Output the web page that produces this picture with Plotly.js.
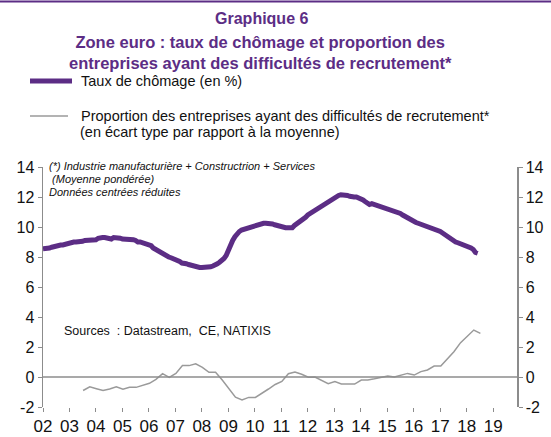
<!DOCTYPE html>
<html><head><meta charset="utf-8">
<script src="https://cdn.plot.ly/plotly-3.0.1.min.js"></script>
<style>html,body{margin:0;padding:0;background:#fff}#chart{width:551px;height:437px}</style>
</head><body><div id="chart"></div>
<script>
// ---- DATA ----
// Monthly euro-area unemployment rate (%), Jan 2002 -> Jun 2018
const unempStart = [2002, 1];
const unemployment = [
  8.55, 8.55, 8.6, 8.6, 8.65, 8.7, 8.7, 8.75, 8.8, 8.8, 8.85, 8.85,
  8.9, 8.95, 9.0, 9.0, 9.0, 9.05, 9.05, 9.1, 9.1, 9.1, 9.1, 9.1,
  9.15, 9.25, 9.3, 9.3, 9.3, 9.25, 9.2, 9.2, 9.3, 9.3, 9.25, 9.25,
  9.2, 9.2, 9.2, 9.2, 9.2, 9.15, 9.1, 9.0, 9.0, 8.95, 8.9, 8.85,
  8.8, 8.75, 8.6, 8.5, 8.4, 8.35, 8.3, 8.2, 8.1, 8.0, 7.95, 7.9,
  7.8, 7.75, 7.7, 7.6, 7.6, 7.55, 7.5, 7.45, 7.4, 7.35, 7.35, 7.3,
  7.3, 7.3, 7.3, 7.3, 7.35, 7.4, 7.45, 7.55, 7.65, 7.75, 7.9, 8.1,
  8.5, 8.8, 9.1, 9.35, 9.55, 9.7, 9.8, 9.85, 9.9, 9.95, 10.0, 10.05,
  10.1, 10.15, 10.2, 10.2, 10.25, 10.25, 10.25, 10.2, 10.2, 10.15, 10.1, 10.05,
  10.0, 10.0, 9.95, 9.95, 9.95, 9.95, 10.1, 10.2, 10.3, 10.4, 10.5, 10.65,
  10.8, 10.9, 11.0, 11.1, 11.2, 11.3, 11.4, 11.5, 11.6, 11.7, 11.8, 11.9,
  12.0, 12.05, 12.1, 12.15, 12.15, 12.1, 12.1, 12.05, 12.0, 12.0, 12.0, 11.95,
  11.9, 11.8, 11.7, 11.6, 11.5, 11.55, 11.5, 11.5, 11.45, 11.4, 11.35, 11.3,
  11.2, 11.15, 11.1, 11.05, 11.0, 11.0, 10.9, 10.8, 10.7, 10.6, 10.5, 10.45,
  10.4, 10.3, 10.25, 10.2, 10.15, 10.1, 10.05, 10.0, 9.95, 9.9, 9.85, 9.8,
  9.7, 9.6, 9.5, 9.35, 9.25, 9.15, 9.05, 9.0, 8.95, 8.9, 8.8, 8.75,
  8.7, 8.65, 8.6, 8.5, 8.3, 8.25
];
// Quarterly share of firms reporting hiring difficulties (std. dev. from mean), Q3 2003 -> Q3 2018
const recruitStart = [2003, 7];
const recruitment = [
  -0.9, -0.65,
  -0.78, -0.9, -0.8, -0.65,
  -0.82, -0.69, -0.69, -0.55,
  -0.42, -0.16, 0.22, -0.02,
  0.24, 0.76, 0.76, 0.88,
  0.64, 0.31, 0.31, -0.2,
  -0.8, -1.35, -1.53, -1.36,
  -1.36, -1.1, -0.8, -0.5,
  -0.3, 0.22, 0.33, 0.18,
  -0.02, 0.0, -0.2, -0.45,
  -0.31, -0.47, -0.47, -0.47,
  -0.2, -0.2, -0.12, -0.05,
  0.07, 0.0, 0.13, 0.24,
  0.13, 0.36, 0.47, 0.73,
  0.73, 1.24, 1.69, 2.29,
  2.69, 3.13, 2.91
];
const yTicks = [-2, 0, 2, 4, 6, 8, 10, 12, 14];
const yTickText = ["-2", "0", "2", "4", "6", "8", "10", "12", "14"];
const seriesNames = ["Taux de chômage (en %)",
  "Proportion des entreprises ayant des difficultés de recrutement*",
  "(en écart type par rapport à la moyenne)"];

// ---- helpers ----
function monthDates(start, n, step, day) {
  const out = [];
  for (let i = 0; i < n; i++) {
    const m0 = (start[1] - 1) + i * step;
    const y = start[0] + Math.floor(m0 / 12);
    const m = (m0 % 12) + 1;
    out.push(y + "-" + String(m).padStart(2, "0") + "-" + day);
  }
  return out;
}
const PURPLE = "#5c2d85";
const GREY = "#9a9a9a";
const AXIS = "#8c8c8c";
const FONT = "Liberation Sans, Arial, sans-serif";

// plot area in pixels
const L = 43, R = 517, T = 167, B = 407, W = 551, H = 437;
const px = x => (x - L) / (R - L);
const py = y => (B - y) / (B - T);

const traces = [
  { x: monthDates(unempStart, unemployment.length, 1, "01"), y: unemployment,
    type: "scatter", mode: "lines", name: seriesNames[0],
    line: { color: PURPLE, width: 5 }, yaxis: "y", showlegend: false },
  { x: monthDates(recruitStart, recruitment.length, 3, "08"), y: recruitment,
    type: "scatter", mode: "lines", name: seriesNames[1],
    line: { color: GREY, width: 1.5 }, yaxis: "y2", showlegend: false }
];

const yCommon = {
  range: [-2, 14], tickvals: yTicks, ticktext: yTickText, ticks: "outside", ticklen: 4, tickwidth: 1,
  tickcolor: AXIS, showline: true, linecolor: AXIS, linewidth: 1.5,
  showgrid: false, zeroline: false, fixedrange: true,
  tickfont: { family: FONT, size: 16, color: "#111" }
};

const legendFont = { family: FONT, size: 14.5, color: "#111" };

const layout = {
  width: W, height: H,
  margin: { l: L, r: W - R, t: T, b: H - B, autoexpand: false },
  paper_bgcolor: "#fff", plot_bgcolor: "#fff",
  font: { family: FONT, color: "#111" },
  showlegend: false,
  title: { text: "<b>Graphique 6</b>", x: 0.475, xanchor: "center", y: 1 - 18 / H, yanchor: "middle",
           font: { family: FONT, size: 16, color: PURPLE } },
  xaxis: {
    type: "date", range: ["2002-01-01", "2019-11-25"],
    tick0: "2002-01-01", dtick: "M12", tickformat: "%y",
    ticks: "outside", ticklen: 4, tickcolor: AXIS, showline: false,
    showgrid: false, zeroline: false,
    tickfont: { family: FONT, size: 17, color: "#111" }
  },
  yaxis: Object.assign({}, yCommon, { side: "left" }),
  yaxis2: Object.assign({}, yCommon, { side: "right", overlaying: "y" }),
  shapes: [
    { type: "line", xref: "paper", yref: "paper", x0: px(0), x1: px(W), y0: py(1.5), y1: py(1.5),
      line: { color: PURPLE, width: 2 } },
    { type: "line", xref: "paper", yref: "y", x0: 0, x1: 1, y0: 0, y1: 0,
      line: { color: AXIS, width: 1.5 } },
    { type: "line", xref: "paper", yref: "paper", x0: px(30), x1: px(72), y0: py(81), y1: py(81),
      line: { color: PURPLE, width: 5 } },
    { type: "line", xref: "paper", yref: "paper", x0: px(30), x1: px(68), y0: py(116), y1: py(116),
      line: { color: GREY, width: 1.5 } }
  ],
  annotations: [
    { text: "<b>Zone euro : taux de chômage et proportion des<br>entreprises ayant des difficultés de recrutement*</b>",
      xref: "paper", yref: "paper", x: px(260), y: py(53), xanchor: "center", yanchor: "middle",
      showarrow: false, align: "center", font: { family: FONT, size: 16.5, color: PURPLE } },
    { text: seriesNames[0], xref: "paper", yref: "paper", x: px(79), y: py(81),
      xanchor: "left", yanchor: "middle", showarrow: false, font: legendFont },
    { text: seriesNames[1], xref: "paper", yref: "paper",
      x: px(79), y: py(116), xanchor: "left", yanchor: "middle", showarrow: false, font: legendFont },
    { text: seriesNames[2], xref: "paper", yref: "paper",
      x: px(78), y: py(132), xanchor: "left", yanchor: "middle", showarrow: false, font: legendFont },
    { text: "<i>(*) Industrie manufacturière + Constructrion + Services</i>", xref: "paper", yref: "paper",
      x: px(47), y: py(166), xanchor: "left", yanchor: "middle", showarrow: false,
      font: { family: FONT, size: 11, color: "#111" } },
    { text: "<i> (Moyenne pondérée)</i>", xref: "paper", yref: "paper",
      x: px(47), y: py(179), xanchor: "left", yanchor: "middle", showarrow: false,
      font: { family: FONT, size: 11, color: "#111" } },
    { text: "<i>Données centrées réduites</i>", xref: "paper", yref: "paper",
      x: px(47), y: py(192), xanchor: "left", yanchor: "middle", showarrow: false,
      font: { family: FONT, size: 11, color: "#111" } },
    { text: "Sources  : Datastream,  CE, NATIXIS", xref: "paper", yref: "paper",
      x: px(62), y: py(331), xanchor: "left", yanchor: "middle", showarrow: false,
      font: { family: FONT, size: 12.5, color: "#111" } }
  ]
};

Plotly.newPlot("chart", traces, layout, { staticPlot: true, displayModeBar: false });
</script></body></html>
